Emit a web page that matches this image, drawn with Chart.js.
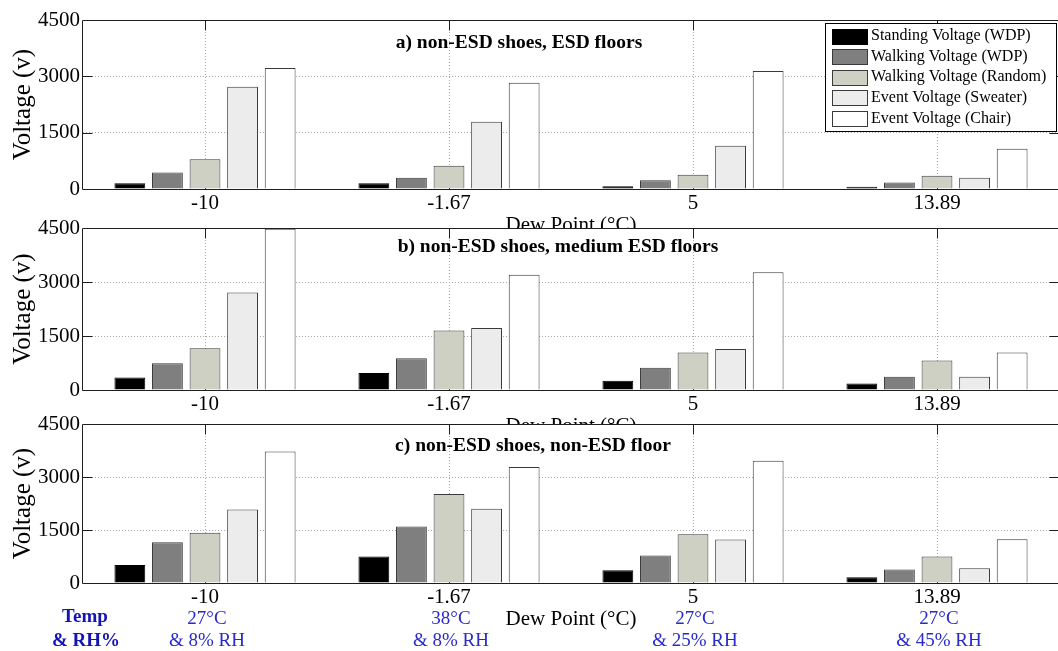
<!DOCTYPE html>
<html>
<head>
<meta charset="utf-8">
<script src="https://cdn.jsdelivr.net/npm/chart.js@4.4.1/dist/chart.umd.min.js"></script>
<style>
  html, body { margin: 0; padding: 0; background: #fff; width: 1058px; height: 651px; overflow: hidden; position: relative; }
  canvas.panel { position: absolute; left: 0; }
</style>
</head>
<body>
<canvas id="panelA" class="panel" width="1062" height="232" style="top:6px"></canvas>
<canvas id="panelB" class="panel" width="1062" height="225" style="top:214px"></canvas>
<canvas id="panelC" class="panel" width="1062" height="241" style="top:410px"></canvas>
<script>
// Dew point categories and the five measured voltage series
const dewPoints = ['-10', '-1.67', '5', '13.89'];
const seriesNames = [
  'Standing Voltage (WDP)',
  'Walking Voltage (WDP)',
  'Walking Voltage (Random)',
  'Event Voltage (Sweater)',
  'Event Voltage (Chair)'
];
const yTicks = [0, 1500, 3000, 4500];
const panelTitles = [
  'a) non-ESD shoes, ESD floors',
  'b) non-ESD shoes, medium ESD floors',
  'c) non-ESD shoes, non-ESD floor'
];

// a) ESD floors
const esdStanding = [150, 150, 70, 60];
const esdWalkingWdp = [440, 300, 230, 170];
const esdWalkingRandom = [790, 620, 380, 350];
const esdSweater = [2720, 1790, 1150, 300];
const esdChair = [3220, 2830, 3140, 1070];

// b) medium ESD floors
const midStanding = [350, 470, 260, 180];
const midWalkingWdp = [740, 880, 620, 370];
const midWalkingRandom = [1160, 1650, 1040, 820];
const midSweater = [2710, 1720, 1140, 370];
const midChair = [4480, 3200, 3270, 1040];

// c) non-ESD floor
const nonStanding = [510, 750, 360, 160];
const nonWalkingWdp = [1150, 1600, 780, 380];
const nonWalkingRandom = [1420, 2520, 1380, 750];
const nonSweater = [2080, 2100, 1230, 420];
const nonChair = [3720, 3280, 3460, 1240];

// Room conditions under each dew point
const tempLabels = ['27°C', '38°C', '27°C', '27°C'];
const rhLabels = ['& 8% RH', '& 8% RH', '& 25% RH', '& 45% RH'];
const conditionHeader = ['Temp', '& RH%'];

// Styling
const SERIF = "'Liberation Serif', 'Times New Roman', serif";
const seriesColors = ['#000000', '#7f7f7f', '#cfd0c4', '#ececec', '#ffffff'];
const edgeColors = ['#000000', '#3a3a3a', '#3a3a3a', '#3a3a3a', '#3a3a3a'];
const GRID = '#a8a8a8';
const AXIS = '#1e1e1e';
const BLUE = '#2a2acc';
const BLUE_BOLD = '#1414b4';
const TOP_ROOM = 14;

Chart.defaults.font.family = SERIF;
Chart.defaults.color = '#000';

function hline(ctx, x0, x1, y) { ctx.beginPath(); ctx.moveTo(x0, y); ctx.lineTo(x1, y); ctx.stroke(); }
function vline(ctx, x, y0, y1) { ctx.beginPath(); ctx.moveTo(x, y0); ctx.lineTo(x, y1); ctx.stroke(); }

// Axes box, inward ticks, panel caption, legend and condition labels
const decorPlugin = {
  id: 'panelDecor',
  beforeDraw(chart) {
    const a = chart.chartArea, ctx = chart.ctx;
    ctx.save();
    ctx.fillStyle = '#fff';
    ctx.fillRect(a.left, a.top, a.right - a.left, a.bottom - a.top);
    ctx.restore();
  },
  beforeDatasetsDraw(chart) {
    const a = chart.chartArea, ctx = chart.ctx;
    const xs = chart.scales.x, ys = chart.scales.y;
    const L = Math.floor(a.left) - 0.5, R = Math.floor(a.right) + 0.5;
    const T = Math.floor(a.top) + 0.5, B = Math.floor(a.bottom) + 0.5;
    ctx.save();
    ctx.strokeStyle = AXIS;
    ctx.lineWidth = 1;
    hline(ctx, L, R, T);
    hline(ctx, L, R, B);
    vline(ctx, L, T, B);
    vline(ctx, R, T, B);
    const tick = 10;
    dewPoints.forEach((d, i) => {
      const x = Math.round(xs.getPixelForValue(i)) + 0.5;
      vline(ctx, x, T, T + tick);
      vline(ctx, x, B, B - tick);
    });
    yTicks.slice(1, -1).forEach(v => {
      const y = Math.round(ys.getPixelForValue(v)) + 0.5;
      hline(ctx, L, L + tick, y);
      hline(ctx, R - tick, R, y);
    });
    ctx.restore();
  },
  afterDraw(chart, args, o) {
    const a = chart.chartArea, ctx = chart.ctx;
    ctx.save();
    ctx.fillStyle = '#000';
    ctx.font = 'bold 19.5px ' + SERIF;
    ctx.textAlign = 'center';
    ctx.textBaseline = 'middle';
    ctx.fillText(o.title, a.left + o.titleX, a.top + o.titleY);

    if (o.legend) {
      const bx = a.right - 234, by = a.top + 3, bw = 231, bh = 108;
      ctx.fillStyle = '#fff';
      ctx.fillRect(bx, by, bw, bh);
      ctx.strokeStyle = '#000';
      ctx.lineWidth = 1;
      ctx.strokeRect(bx + 0.5, by + 0.5, bw, bh);
      ctx.font = '16px ' + SERIF;
      ctx.textAlign = 'left';
      chart.data.datasets.forEach((ds, k) => {
        const cy = by + 13 + k * 20.6;
        ctx.fillStyle = ds.backgroundColor;
        ctx.fillRect(bx + 7, Math.round(cy - 7.5), 35, 15);
        ctx.strokeStyle = ds.borderColor;
        ctx.strokeRect(bx + 7.5, Math.round(cy - 7.5) + 0.5, 35, 15);
        ctx.fillStyle = '#000';
        ctx.fillText(ds.label, bx + 46, cy);
      });
    }

    if (o.conditions) {
      const xs = chart.scales.x;
      const y1 = a.bottom + 36, y2 = a.bottom + 58;
      ctx.textAlign = 'center';
      ctx.font = '19px ' + SERIF;
      ctx.fillStyle = BLUE;
      dewPoints.forEach((d, i) => {
        const x = xs.getPixelForValue(i) + 2;
        ctx.fillText(tempLabels[i], x, y1);
        ctx.fillText(rhLabels[i], x, y2);
      });
      ctx.font = 'bold 19px ' + SERIF;
      ctx.fillStyle = BLUE_BOLD;
      ctx.fillText(conditionHeader[0], 85, y1 - 1.5);
      ctx.fillText(conditionHeader[1], 86, y2);
    }
    ctx.restore();
  }
};

function makePanel(id, series, decor, padBottom) {
  const datasets = series.map((vals, k) => ({
    label: seriesNames[k],
    data: vals,
    backgroundColor: seriesColors[k],
    borderColor: edgeColors[k],
    borderWidth: 1,
    categoryPercentage: 0.77,
    barPercentage: 0.82
  }));
  return new Chart(document.getElementById(id), {
    type: 'bar',
    data: { labels: dewPoints, datasets },
    options: {
      responsive: false,
      animation: false,
      devicePixelRatio: 1,
      layout: { padding: { top: TOP_ROOM, right: 3, bottom: padBottom, left: 0 } },
      plugins: {
        legend: { display: false },
        tooltip: { enabled: false },
        panelDecor: decor
      },
      scales: {
        x: {
          offset: true,
          grid: { offset: false, drawTicks: false, color: GRID, lineWidth: 1 },
          border: { display: false, dash: [1, 2] },
          ticks: { padding: 2, font: { size: 21 }, color: '#000', maxRotation: 0, autoSkip: false },
          title: { display: true, text: 'Dew Point (°C)', font: { size: 21 }, color: '#000', padding: { top: 0, bottom: 0 } },
          afterFit(s) { s.height = 49; s.paddingLeft = 0; s.paddingRight = 0; }
        },
        y: {
          min: yTicks[0],
          max: yTicks[yTicks.length - 1],
          afterBuildTicks(s) { s.ticks = yTicks.map(v => ({ value: v })); },
          grid: {
            drawTicks: false,
            lineWidth: 1,
            color: c => (c.tick && c.tick.value > yTicks[0] && c.tick.value < yTicks[yTicks.length - 1]) ? GRID : 'rgba(0,0,0,0)'
          },
          border: { display: false, dash: [1, 2] },
          ticks: { padding: 3, font: { size: 21 }, color: '#000', callback: v => String(v) },
          title: { display: true, text: 'Voltage (v)', font: { size: 25 }, color: '#000', padding: { top: 8, bottom: 0 } },
          afterFit(s) { s.width = 83; s.paddingTop = 0; s.paddingBottom = 0; }
        }
      }
    },
    plugins: [decorPlugin]
  });
}

makePanel('panelA',
  [esdStanding, esdWalkingWdp, esdWalkingRandom, esdSweater, esdChair],
  { title: panelTitles[0], titleX: 436, titleY: 23, legend: true, conditions: false }, 0);
makePanel('panelB',
  [midStanding, midWalkingWdp, midWalkingRandom, midSweater, midChair],
  { title: panelTitles[1], titleX: 475, titleY: 19, legend: false, conditions: false }, 0);
makePanel('panelC',
  [nonStanding, nonWalkingWdp, nonWalkingRandom, nonSweater, nonChair],
  { title: panelTitles[2], titleX: 450, titleY: 21.5, legend: false, conditions: true }, 19);
</script>
</body>
</html>
